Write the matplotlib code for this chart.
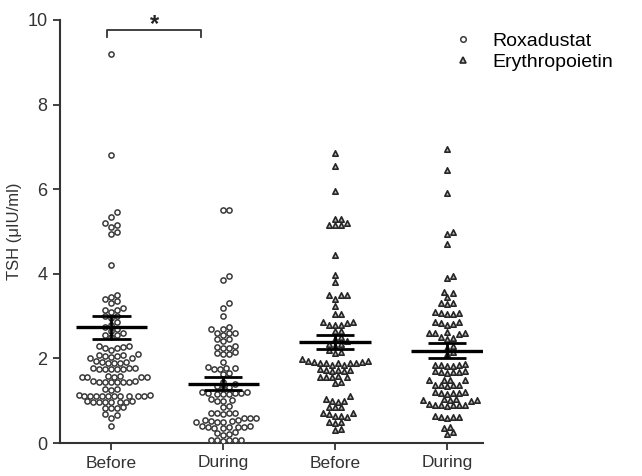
import numpy as np
import matplotlib
matplotlib.use('Agg')
from matplotlib import pyplot as plt
from matplotlib.lines import Line2D

plt.rcParams['font.family'] = ['Liberation Sans', 'DejaVu Sans']

tick_labels = ['Before', 'During', 'Before', 'During']
series_names = ['Roxadustat', 'Erythropoietin']

roxa_before = [9.2, 6.8, 5.45, 5.35, 5.2, 5.15, 5.1, 5.0, 4.95, 4.2,
               3.5, 3.45, 3.4, 3.35, 3.3, 3.2, 3.15, 3.15, 3.1, 3.0, 3.0, 2.95,
               2.85, 2.8, 2.75, 2.7, 2.65, 2.6, 2.55, 2.55, 2.5,
               2.3, 2.3, 2.28, 2.25, 2.25, 2.2,
               2.1, 2.08, 2.05, 2.05, 2.0, 2.0, 2.07, 2.03,
               1.92, 1.92, 1.9, 1.9, 1.88, 1.93,
               1.78, 1.78, 1.75, 1.75, 1.76, 1.74, 1.77, 1.75,
               1.58, 1.57, 1.56, 1.55, 1.57, 1.58, 1.56,
               1.46, 1.45, 1.45, 1.44, 1.45, 1.46, 1.44, 1.45,
               1.27, 1.28, 1.26,
               1.12, 1.12, 1.11, 1.13, 1.12, 1.1, 1.12, 1.13, 1.11, 1.12, 1.12, 1.1,
               0.98, 0.98, 0.97, 0.99, 0.98, 0.97, 0.98, 0.99,
               0.83, 0.84, 0.82, 0.83, 0.68, 0.67, 0.6, 0.4]

roxa_during = [5.5, 5.5, 3.95, 3.85, 3.3, 3.2, 3.0,
               2.75, 2.7, 2.7, 2.6, 2.6, 2.6, 2.55, 2.45, 2.45, 2.4,
               2.3, 2.28, 2.25, 2.25, 2.12, 2.1, 2.1, 2.15, 1.92,
               1.8, 1.78, 1.77, 1.75, 1.75, 1.65, 1.62,
               1.45, 1.4, 1.35, 1.33, 1.3,
               1.2, 1.18, 1.18, 1.18, 1.15, 1.2, 1.15, 1.15,
               1.02, 1.0, 1.05, 1.0, 0.88, 0.85,
               0.72, 0.7, 0.7, 0.68, 0.7,
               0.6, 0.58, 0.55, 0.52, 0.5, 0.6, 0.55, 0.52, 0.5, 0.5,
               0.4, 0.38, 0.38, 0.36, 0.4, 0.38, 0.35, 0.38,
               0.25, 0.22, 0.23, 0.2,
               0.08, 0.07, 0.06, 0.08, 0.05, 0.07]

epo_before = [6.85, 6.55, 5.95, 5.3, 5.3, 5.2, 5.15, 5.15, 5.15, 4.45,
              3.97, 3.8, 3.5, 3.5, 3.5, 3.4, 3.25, 3.05, 3.05,
              2.85, 2.85, 2.83, 2.8, 2.8, 2.8, 2.65, 2.65,
              2.5, 2.45, 2.4, 2.35, 2.35, 2.3, 2.2, 2.15, 2.12,
              1.98, 1.95, 1.95, 1.92, 1.9, 1.9, 1.88, 1.88, 1.85, 1.85, 1.9, 1.92,
              1.75, 1.72, 1.72, 1.7, 1.7, 1.73,
              1.58, 1.56, 1.55, 1.55, 1.57, 1.45, 1.42,
              1.1, 1.05, 1.0, 1.0, 0.98, 0.86, 0.85, 0.84,
              0.72, 0.7, 0.68, 0.65, 0.62, 0.64, 0.5, 0.5, 0.48, 0.32, 0.3]

epo_during = [6.95, 6.45, 5.9, 5.0, 4.95, 4.7, 3.95, 3.9, 3.58, 3.45,
              3.55, 3.3, 3.3, 3.28, 3.08, 3.07, 3.05, 3.06, 3.1,
              2.85, 2.83, 2.82, 2.8, 2.85, 2.6, 2.62, 2.58, 2.6, 2.6, 2.5, 2.48, 2.46,
              2.3, 2.25, 2.15, 2.1,
              1.85, 1.84, 1.82, 1.85, 1.83, 1.86,
              1.7, 1.68, 1.67, 1.68, 1.7, 1.66,
              1.5, 1.49, 1.48, 1.5,
              1.38, 1.37, 1.36, 1.38, 1.35,
              1.2, 1.18, 1.17, 1.19, 1.18, 1.2,
              1.03, 1.02, 1.0, 1.02, 1.01, 1.03,
              0.9, 0.9, 0.88, 0.91, 0.9, 0.89, 0.92,
              0.63, 0.62, 0.6, 0.62, 0.61, 0.38, 0.36, 0.25, 0.22]

# mean and SEM
means = [2.74, 1.40, 2.39, 2.18]
sems = [0.27, 0.15, 0.17, 0.18]

groups = [roxa_before, roxa_during, epo_before, epo_during]
markers = ['o', 'o', '^', '^']

xpx = 112.0   # pixels per category
ypx = 42.3    # pixels per y unit
diam = 6.0


def swarm(vals):
  # simple beeswarm, offsets returned in category units
  vals = np.asarray(vals, dtype=float)
  order = np.argsort(vals)
  placed = []
  offs = np.zeros(len(vals))
  cand = [0.0]
  for k in range(1, 40):
    cand += [k * diam / 2, -k * diam / 2]
  for i in order:
    y = vals[i] * ypx
    for c in cand:
      ok = True
      for (px, py) in placed:
        if (px - c) ** 2 + (py - y) ** 2 < diam ** 2:
          ok = False
          break
      if ok:
        break
    placed.append((c, y))
    offs[i] = c / xpx
  return offs


fig = plt.figure(figsize=(6.42, 4.76), dpi=100)
ax = fig.add_axes([60 / 642, 33 / 476, 423 / 642, 423 / 476])

for i, vals in enumerate(groups):
  xs = i + swarm(vals)
  if markers[i] == 'o':
    ax.scatter(xs, vals, s=14, marker='o', facecolors='white',
               edgecolors='#3a3a3a', linewidths=1.1, zorder=3)
  else:
    ax.scatter(xs, vals, s=15, marker='^', facecolors='#bdbdbd',
               edgecolors='#262626', linewidths=1.2, zorder=3)
  ax.hlines(means[i], i - 0.32, i + 0.32, color='black', lw=2.4, zorder=4)
  ax.hlines([means[i] - sems[i], means[i] + sems[i]], i - 0.17, i + 0.17,
            color='black', lw=2.0, zorder=4)
  ax.vlines(i, means[i] - sems[i], means[i] + sems[i], color='black',
            lw=2.0, zorder=4)

# significance bracket between the two Roxadustat groups
bx0, bx1 = 0 - 0.04, 1 - 0.2
ax.plot([bx0, bx0, bx1, bx1], [9.6, 9.76, 9.76, 9.6], color='#333333',
        lw=1.3, clip_on=False)
ax.text((bx0 + bx1) / 2, 9.62, '*', ha='center', va='bottom', fontsize=17,
        fontweight='bold', color='#222222')

ax.set_xlim(-0.46, 3.32)
ax.set_ylim(0, 10)
ax.set_yticks([0, 2, 4, 6, 8, 10])
ax.set_xticks(range(4))
ax.set_xticklabels(tick_labels)
ax.tick_params(axis='both', labelsize=13, colors='#333333', length=5, width=1.3)
ax.tick_params(axis='x', pad=4, labelsize=12.5)
ax.tick_params(axis='y', pad=4)
for s in ['top', 'right']:
  ax.spines[s].set_visible(False)
for s in ['left', 'bottom']:
  ax.spines[s].set_color('#333333')
  ax.spines[s].set_linewidth(1.5)
ax.set_ylabel('TSH (μIU/ml)', fontsize=12, color='#333333', labelpad=4)

handles = [
  Line2D([], [], ls='none', marker='o', ms=4, mfc='white', mec='#3a3a3a', mew=1.1),
  Line2D([], [], ls='none', marker='^', ms=4, mfc='#bdbdbd', mec='#262626', mew=1.2),
]
fig.legend(handles, series_names, loc='upper left',
           bbox_to_anchor=(436 / 642, 1 - 15 / 476), frameon=False,
           fontsize=14, handletextpad=1.0, labelspacing=0.15,
           handlelength=1.0, alignment='left')

fig.savefig('out.png', dpi=100)
